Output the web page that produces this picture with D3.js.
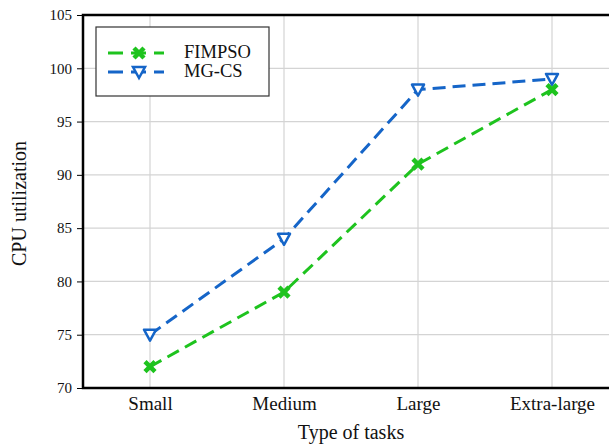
<!DOCTYPE html>
<meta charset="utf-8">
<style>
body { margin: 0; background: #fff; }
svg { display: block; font-family: "Liberation Serif", "Times New Roman", serif; }
</style>
<script src="https://cdnjs.cloudflare.com/ajax/libs/d3/7.8.5/d3.min.js"></script>
<body></body>
<script>

var categories = ['Small', 'Medium', 'Large', 'Extra-large'];
var fimpso = [72, 79, 91, 98];
var mgcs = [75, 84, 98, 99];
var yTicks = [70, 75, 80, 85, 90, 95, 100, 105];

var width = 609, height = 444;
var plotLeft = 83, plotRight = 619, plotTop = 15, plotBottom = 388;
var green = '#1ec31e', blue = '#1565c8';

var svg = d3.select('body').append('svg')
	.attr('width', width)
	.attr('height', height);

var x = d3.scalePoint().domain(categories).range([plotLeft, plotRight]).padding(0.5);
var y = d3.scaleLinear().domain([70, 105]).range([plotBottom, plotTop]);

//grid
svg.append('g').selectAll('line').data(yTicks.slice(1, -1)).enter().append('line')
	.attr('x1', plotLeft).attr('x2', plotRight)
	.attr('y1', d => y(d)).attr('y2', d => y(d))
	.attr('stroke', '#d4d4d4').attr('stroke-width', 1.2);
svg.append('g').selectAll('line').data(categories).enter().append('line')
	.attr('x1', d => x(d)).attr('x2', d => x(d))
	.attr('y1', plotTop).attr('y2', plotBottom)
	.attr('stroke', '#d4d4d4').attr('stroke-width', 1.2);

//y axis
var yAxis = svg.append('g')
	.attr('transform', 'translate(' + plotLeft + ',0)')
	.call(d3.axisLeft(y).tickValues(yTicks).tickSize(6).tickPadding(5));
yAxis.select('.domain').remove();
yAxis.selectAll('line').attr('stroke', '#000').attr('stroke-width', 1);
yAxis.selectAll('text').attr('font-size', 15).attr('font-family', 'Liberation Serif').attr('fill', '#111');

//x axis labels
var xAxis = svg.append('g')
	.attr('transform', 'translate(0,' + plotBottom + ')')
	.call(d3.axisBottom(x).tickSize(0).tickPadding(9));
xAxis.select('.domain').remove();
xAxis.selectAll('text').attr('font-size', 19).attr('font-family', 'Liberation Serif').attr('fill', '#111');

//frame
svg.append('rect')
	.attr('x', plotLeft).attr('y', plotTop)
	.attr('width', plotRight - plotLeft).attr('height', plotBottom - plotTop)
	.attr('fill', 'none').attr('stroke', '#000').attr('stroke-width', 2.5);

//titles
svg.append('text')
	.attr('transform', 'translate(26,' + ((plotTop + plotBottom) / 2 + 2) + ') rotate(-90)')
	.attr('text-anchor', 'middle')
	.attr('font-size', 20)
	.attr('fill', '#111')
	.text('CPU utilization');
svg.append('text')
	.attr('x', (plotLeft + plotRight) / 2)
	.attr('y', 439)
	.attr('text-anchor', 'middle')
	.attr('font-size', 20)
	.attr('fill', '#111')
	.text('Type of tasks');

var crossPath = 'M-5,-5L5,5M5,-5L-5,5';
var triPath = 'M-6,-5L6,-5L0,6Z';

function drawSeries(values, color, marker) {
	var line = d3.line()
		.x((d, i) => x(categories[i]))
		.y(d => y(d));
	svg.append('path')
		.datum(values)
		.attr('d', line)
		.attr('fill', 'none')
		.attr('stroke', color)
		.attr('stroke-width', 3)
		.attr('stroke-dasharray', '13,7');
	svg.append('g').selectAll('path').data(values).enter().append('path')
		.attr('transform', (d, i) => 'translate(' + x(categories[i]) + ',' + y(d) + ')')
		.attr('d', marker === 'cross' ? crossPath : triPath)
		.attr('fill', marker === 'cross' ? 'none' : '#fff')
		.attr('stroke', color)
		.attr('stroke-width', marker === 'cross' ? 4.5 : 2.5)
		.attr('stroke-linejoin', 'round');
}

drawSeries(mgcs, blue, 'tri');
drawSeries(fimpso, green, 'cross');

//legend
var lg = svg.append('g');
lg.append('rect')
	.attr('x', 96).attr('y', 27).attr('width', 173).attr('height', 69)
	.attr('fill', '#fff').attr('stroke', '#333').attr('stroke-width', 1.2);
var legendItems = [
	{ name: 'FIMPSO', color: green, marker: 'cross' },
	{ name: 'MG-CS', color: blue, marker: 'tri' }
];
legendItems.forEach(function (d, i) {
	var ly = 53 + i * 19;
	lg.append('line')
		.attr('x1', 108).attr('x2', 164)
		.attr('y1', ly).attr('y2', ly)
		.attr('stroke', d.color).attr('stroke-width', 3)
		.attr('stroke-dasharray', '15,8');
	lg.append('path')
		.attr('transform', 'translate(139,' + ly + ')')
		.attr('d', d.marker === 'cross' ? crossPath : triPath)
		.attr('fill', d.marker === 'cross' ? 'none' : '#fff')
		.attr('stroke', d.color)
		.attr('stroke-width', d.marker === 'cross' ? 4.5 : 2.5);
	lg.append('text')
		.attr('x', 184).attr('y', ly + 5)
		.attr('font-size', 18.5).attr('fill', '#111')
		.text(d.name);
});

</script>
